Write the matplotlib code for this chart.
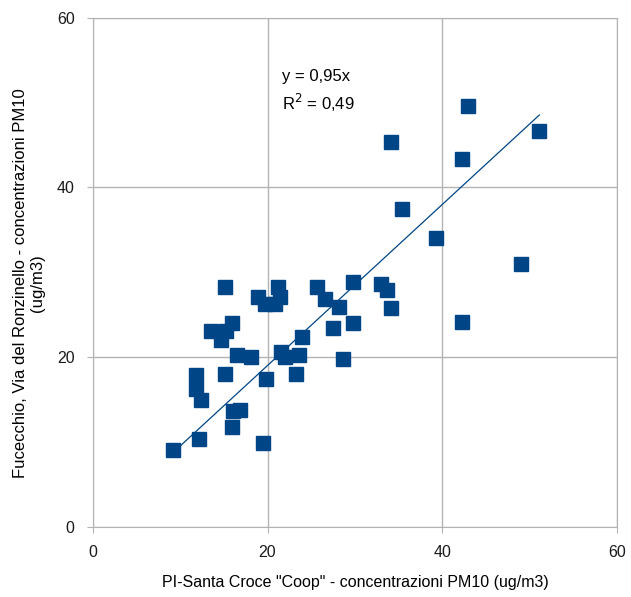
import matplotlib
matplotlib.use("Agg")
import matplotlib.pyplot as plt
import numpy as np

plt.rcParams['font.family'] = ['Liberation Sans', 'DejaVu Sans']

# PI-Santa Croce "Coop" PM10
santa_croce = [42.9, 51.1, 34.1, 42.3, 35.4, 39.3, 49.0, 29.8, 33.0, 33.7,
               34.1, 29.8, 42.2, 25.7, 26.6, 28.2, 28.6, 27.5, 23.9, 23.6,
               23.2, 15.1, 18.9, 21.2, 21.4, 19.7, 20.8, 15.9, 13.5, 15.3,
               14.7, 16.5, 18.1, 21.5, 22.0, 11.8, 15.1, 19.8, 11.8, 12.4,
               16.0, 16.8, 15.9, 12.1, 19.5, 9.2]
# Fucecchio, Via del Ronzinello PM10
fucecchio = [49.6, 46.7, 45.4, 43.4, 37.4, 34.0, 31.0, 28.8, 28.6, 27.9,
             25.8, 24.0, 24.1, 28.2, 26.9, 25.9, 19.8, 23.4, 22.4, 20.2,
             18.0, 28.2, 27.1, 28.2, 27.1, 26.2, 26.2, 24.0, 23.1, 23.1,
             22.0, 20.2, 20.0, 20.6, 20.0, 17.9, 18.0, 17.4, 16.2, 14.9,
             13.6, 13.7, 11.7, 10.3, 9.9, 9.0]
slope = 0.95
ticks = [0, 20, 40, 60]

blue = '#004586'
gray = '#b3b3b3'

fig = plt.figure(figsize=(6.31, 5.97), dpi=100)
ax = fig.add_axes([0.147, 0.118, 0.831, 0.852])

xs = np.array([min(santa_croce), max(santa_croce)])
ax.plot(xs, slope * xs, color=blue, lw=0.9, zorder=2)
ax.plot(santa_croce, fucecchio, 's', color=blue, markersize=10, zorder=3)

ax.set_xlim(0, 60)
ax.set_ylim(0, 60)
ax.set_xticks(ticks)
ax.set_yticks(ticks)
ax.grid(True, color=gray, lw=1)
ax.set_axisbelow(True)
for s in ax.spines.values():
    s.set_color(gray)
ax.tick_params(colors=gray, labelcolor='#1a1a1a', labelsize=11.5, length=4, pad=9)

ax.set_xlabel('PI-Santa Croce "Coop" - concentrazioni PM10 (ug/m3)', fontsize=11.5, labelpad=11)
ax.set_ylabel('Fucecchio, Via del Ronzinello - concentrazioni PM10\n(ug/m3)',
              fontsize=12, linespacing=1.1)
ax.yaxis.set_label_coords(-0.092, 0.478)

ax.text(21.7, 52.6, 'y = 0,95x', fontsize=12)
ax.text(21.7, 49.1, 'R$^2$ = 0,49', fontsize=12)

fig.savefig('out.png', dpi=100)
